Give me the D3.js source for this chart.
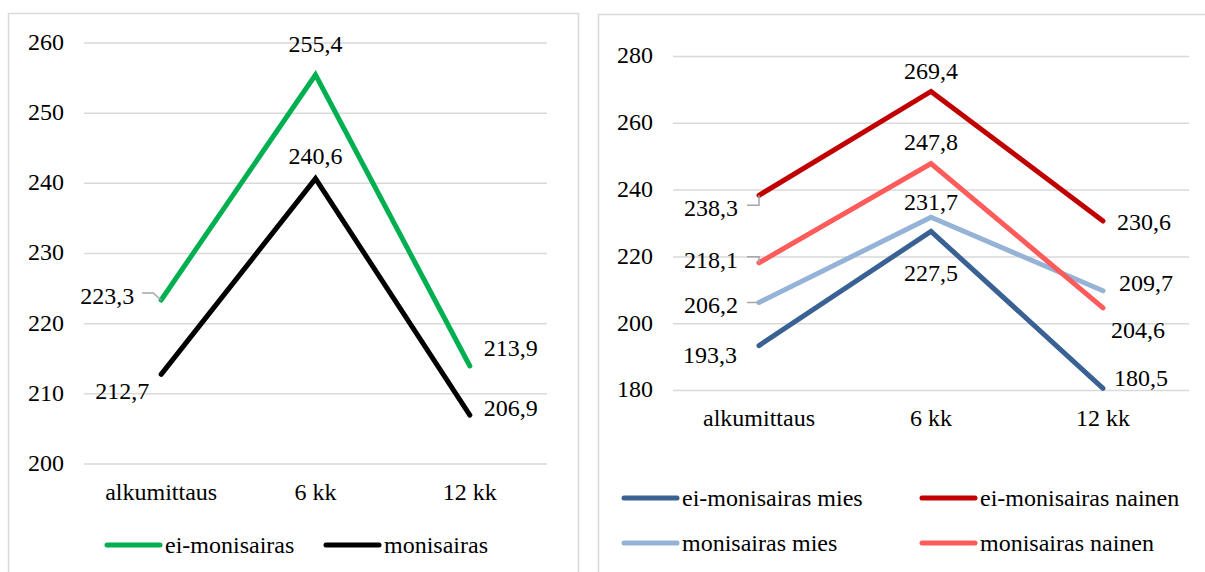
<!DOCTYPE html>
<html>
<head>
<meta charset="utf-8">
<script src="https://cdn.jsdelivr.net/npm/d3@7"></script>
</head>
<body style="margin:0">
<svg id="chart" width="1205" height="572"></svg>
<script>
// --- data ---
const categories = ["alkumittaus", "6 kk", "12 kk"];

const leftTicks = [200, 210, 220, 230, 240, 250, 260];
const leftNames = ["ei-monisairas", "monisairas"];
const eiMonisairas = [223.3, 255.4, 213.9];
const monisairas = [212.7, 240.6, 206.9];

const rightTicks = [180, 200, 220, 240, 260, 280];
const rightNames = ["ei-monisairas mies", "ei-monisairas nainen", "monisairas mies", "monisairas nainen"];
const eiMonisairasMies = [193.3, 227.5, 180.5];
const eiMonisairasNainen = [238.3, 269.4, 230.6];
const monisairasMies = [206.2, 231.7, 209.7];
const monisairasNainen = [218.1, 247.8, 204.6];

const fmt = v => v.toFixed(1).replace(".", ",");
const gridColor = "#d9d9d9";
const FONT = "Liberation Serif";
const FONT_SIZE = 24;

const svg = d3.select("#chart");

// text goes straight on the svg root
function addText(x, y, str, anchor) {
    return svg.append("text")
        .attr("x", x).attr("y", y)
        .attr("dy", "0.35em")
        .attr("text-anchor", anchor)
        .attr("font-family", FONT)
        .attr("font-size", FONT_SIZE)
        .attr("fill", "#000")
        .text(str);
}

function drawPanel(cfg) {
    let g = svg.append("g");

    // frame
    g.append("rect")
        .attr("x", cfg.frame[0]).attr("y", cfg.frame[1])
        .attr("width", cfg.frame[2]).attr("height", cfg.frame[3])
        .attr("fill", "none").attr("stroke", gridColor).attr("stroke-width", 1.5);

    let x = d3.scaleBand().domain(categories).range(cfg.xRange);
    let y = d3.scaleLinear().domain(d3.extent(cfg.ticks)).range(cfg.yRange);
    let cx = c => x(c) + x.bandwidth() / 2;

    // gridlines from the axis, labels drawn separately
    let yAxis = d3.axisLeft(y).tickValues(cfg.ticks)
        .tickSize(cfg.xRange[0] - cfg.xRange[1]).tickFormat("");
    let ag = g.append("g").attr("transform", `translate(${cfg.xRange[0]},0)`).call(yAxis);
    ag.select(".domain").remove();
    ag.selectAll(".tick line").attr("stroke", gridColor).attr("stroke-width", 1.5);
    ag.selectAll(".tick text").remove();
    cfg.ticks.forEach(t => addText(cfg.tickLabelX, y(t) - 1, t, "end"));

    // category labels
    categories.forEach(c => addText(cx(c), cfg.catY, c, "middle"));

    let line = d3.line().x((d, i) => cx(categories[i])).y(d => y(d));

    cfg.series.forEach(s => {
        g.append("path").datum(s.values)
            .attr("d", line)
            .attr("fill", "none").attr("stroke", s.color)
            .attr("stroke-width", 5).attr("stroke-linecap", "round").attr("stroke-linejoin", "miter");
    });

    // leader lines
    cfg.series.forEach(s => {
        s.labels.forEach((lp, i) => {
            if (!lp.leader) return;
            let px = cx(categories[i]), py = y(s.values[i]);
            let pts = lp.leader.map(p => [px + p[0], py + p[1]]);
            pts.push([px, py]);
            g.append("path").attr("d", d3.line()(pts))
                .attr("fill", "none").attr("stroke", "#a6a6a6").attr("stroke-width", 1.5);
        });
    });

    cfg.series.forEach(s => {
        s.labels.forEach((lp, i) => {
            let px = cx(categories[i]), py = y(s.values[i]);
            addText(px + lp.dx, py + lp.dy, fmt(s.values[i]), lp.anchor);
        });
    });

    // legend
    cfg.series.forEach(s => {
        let [lx, ly] = s.legend;
        g.append("line")
            .attr("x1", lx).attr("x2", lx + 53).attr("y1", ly).attr("y2", ly)
            .attr("stroke", s.color).attr("stroke-width", 5).attr("stroke-linecap", "round");
        addText(lx + 58, ly, s.name, "start");
    });
}

drawPanel({
    frame: [8.5, 13.5, 570, 600],
    xRange: [84, 547],
    yRange: [463.5, 42.5],
    ticks: leftTicks,
    tickLabelX: 64,
    catY: 492,
    series: [
        { name: leftNames[0], values: eiMonisairas, color: "#00b050", legend: [107, 545],
          labels: [
            { dx: -27, dy: -4, anchor: "end", leader: [[-19, -7], [-8, -7]] },
            { dx: 0, dy: -31, anchor: "middle" },
            { dx: 14, dy: -18, anchor: "start" }] },
        { name: leftNames[1], values: monisairas, color: "#000000", legend: [326, 545],
          labels: [
            { dx: -12, dy: 16, anchor: "end" },
            { dx: 0, dy: -23, anchor: "middle" },
            { dx: 14, dy: -7, anchor: "start" }] }
    ]
});

drawPanel({
    frame: [598.5, 14.5, 620, 600],
    xRange: [673, 1189],
    yRange: [390, 56],
    ticks: rightTicks,
    tickLabelX: 653,
    catY: 418,
    series: [
        { name: rightNames[0], values: eiMonisairasMies, color: "#3a6194", legend: [624, 498],
          labels: [
            { dx: -22, dy: 9, anchor: "end" },
            { dx: 0, dy: 41, anchor: "middle" },
            { dx: 11, dy: -11, anchor: "start" }] },
        { name: rightNames[1], values: eiMonisairasNainen, color: "#c00000", legend: [922, 498],
          labels: [
            { dx: -21, dy: 12, anchor: "end", leader: [[-12, 10], [0, 10]] },
            { dx: 0, dy: -21, anchor: "middle" },
            { dx: 14, dy: 1, anchor: "start" }] },
        { name: rightNames[2], values: monisairasMies, color: "#95b3d7", legend: [624, 543],
          labels: [
            { dx: -21, dy: 2, anchor: "end", leader: [[-12, 0]] },
            { dx: 0, dy: -16, anchor: "middle" },
            { dx: 16, dy: -8, anchor: "start" }] },
        { name: rightNames[3], values: monisairasNainen, color: "#ff5b5b", legend: [922, 543],
          labels: [
            { dx: -21, dy: -3, anchor: "end", leader: [[-12, -6], [0, -6]] },
            { dx: 0, dy: -22, anchor: "middle" },
            { dx: 8, dy: 22, anchor: "start" }] }
    ]
});
</script>
</body>
</html>
